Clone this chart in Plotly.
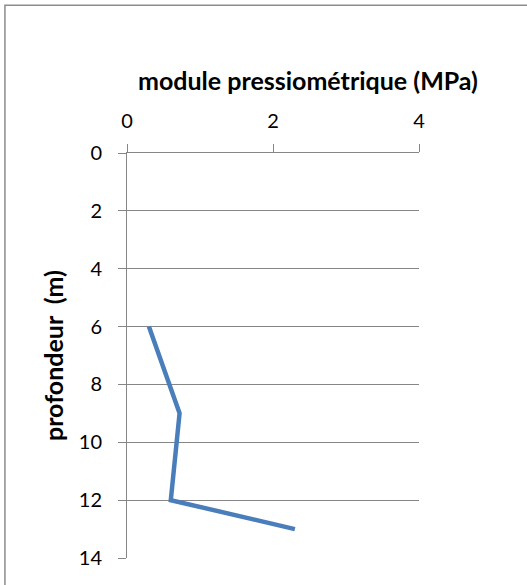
import plotly.graph_objects as go

# Pressuremeter modulus profile with depth
depth_m = [6, 9, 12, 13]
modulus_mpa = [0.3, 0.72, 0.6, 2.3]

x_ticks = [0, 2, 4]
y_ticks = [0, 2, 4, 6, 8, 10, 12, 14]

FONT = "Lato"
AXIS_GREY = "#868686"

fig = go.Figure()
fig.add_trace(go.Scatter(
    x=modulus_mpa, y=depth_m, mode="lines",
    line=dict(color="#4a7ebb", width=4.5),
    showlegend=False,
))

fig.update_layout(
    width=527, height=585,
    margin=dict(l=127, r=108, t=153, b=27),
    paper_bgcolor="white", plot_bgcolor="white",
    font=dict(family=FONT, size=20, color="black"),
    xaxis=dict(
        side="top", range=[0, 4], tickvals=x_ticks, ticktext=[str(v) for v in x_ticks],
        showgrid=False, zeroline=False,
        showline=True, linecolor=AXIS_GREY, linewidth=1,
        ticks="outside", ticklen=8, tickcolor=AXIS_GREY, tickwidth=1,
        ticklabelstandoff=8,
    ),
    yaxis=dict(
        range=[14, 0], tickvals=y_ticks, ticktext=[str(v) for v in y_ticks],
        showgrid=True, gridcolor=AXIS_GREY, gridwidth=1, zeroline=False,
        showline=True, linecolor=AXIS_GREY, linewidth=1,
        ticks="outside", ticklen=8, tickcolor=AXIS_GREY, tickwidth=1,
        ticklabelstandoff=12,
    ),
    annotations=[
        dict(text="<b>module pressiométrique (MPa)</b>", xref="paper", yref="paper",
             x=0.62, y=1.18, showarrow=False, font=dict(family=FONT, size=25),
             xanchor="center", yanchor="middle"),
        dict(text="<b>profondeur  (m)</b>", xref="paper", yref="paper",
             x=-0.255, y=0.5, showarrow=False, textangle=-90,
             font=dict(family=FONT, size=25), xanchor="center", yanchor="middle"),
    ],
    shapes=[
        dict(type="rect", xref="paper", yref="paper",
             x0=-0.418, y0=-0.3, x1=3, y1=1.365,
             line=dict(color="#8c8c8c", width=1.5), layer="below"),
    ],
)

fig.write_html("out.html")
